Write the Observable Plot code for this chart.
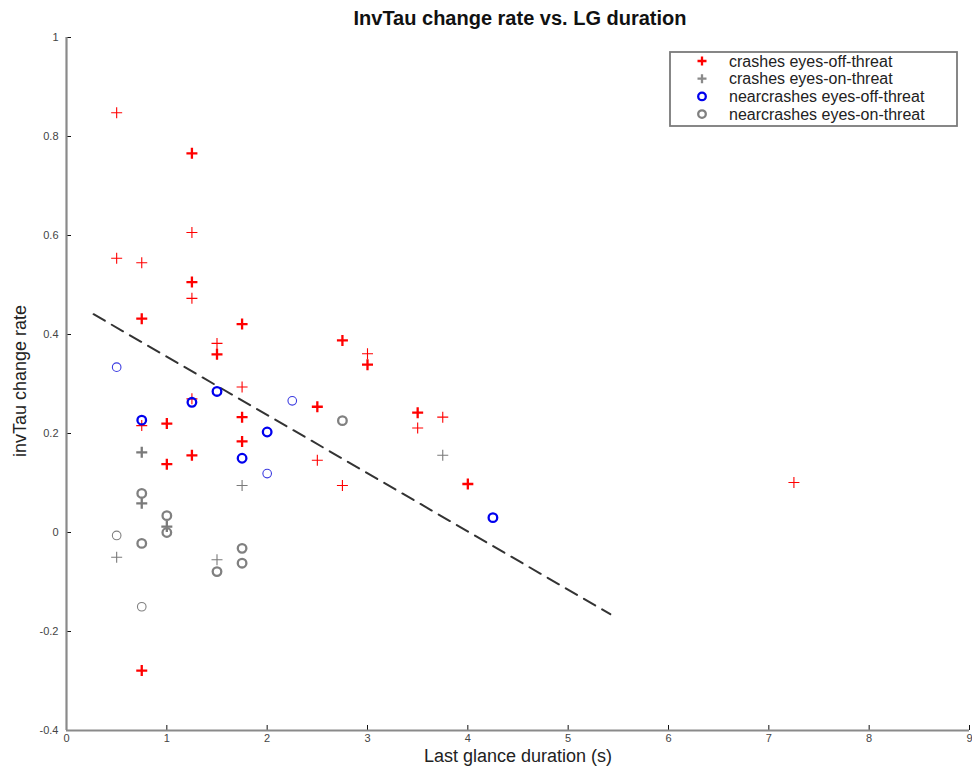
<!DOCTYPE html>
<html>
<head>
<meta charset="utf-8">
<script src="https://cdn.jsdelivr.net/npm/d3@7"></script>
<script src="https://cdn.jsdelivr.net/npm/@observablehq/plot@0.6"></script>
<style>
  html, body { margin: 0; padding: 0; background: #fff; }
  #wrap { position: relative; width: 972px; height: 771px; font-family: "Liberation Sans", Arial, Helvetica, sans-serif; }
  #chart { position: absolute; left: 0; top: 0; }
  .title { position: absolute; left: 320px; width: 400px; top: 7px; text-align: center; font-weight: bold; font-size: 20px; color: #111; white-space: nowrap; }
  .xlabel { position: absolute; left: 368px; width: 300px; top: 746px; line-height: 20px; text-align: center; font-size: 18px; color: #222; white-space: nowrap; }
  .ylabel { position: absolute; left: 20px; top: 381px; transform: translate(-50%, -50%) rotate(-90deg); font-size: 18px; color: #222; white-space: nowrap; }
  #legend { position: absolute; left: 669px; top: 51px; }
</style>
</head>
<body>
<div id="wrap">
  <div id="chart"></div>
  <div class="title">InvTau change rate vs. LG duration</div>
  <div class="xlabel">Last glance duration (s)</div>
  <div class="ylabel">invTau change rate</div>
  <svg id="legend" width="290" height="77"></svg>
</div>
<script>
// ---- data ----
const xDomain = [0, 9];
const yDomain = [-0.4, 1];
const xTicks = [0, 1, 2, 3, 4, 5, 6, 7, 8, 9];
const yTicks = [-0.4, -0.2, 0, 0.2, 0.4, 0.6, 0.8, 1];

// crashes, eyes-off-threat (n = overlapping observations)
const crashOffX = [0.5, 0.5, 0.75, 0.75, 0.75, 0.75, 1.0, 1.0, 1.25, 1.25, 1.25, 1.25, 1.25, 1.25, 1.5, 1.5, 1.75, 1.75, 1.75, 1.75, 2.5, 2.5, 2.75, 2.75, 3.0, 3.0, 3.5, 3.5, 3.75, 4.0, 7.25];
const crashOffY = [0.848, 0.554, 0.545, 0.432, 0.216, -0.279, 0.220, 0.138, 0.766, 0.606, 0.506, 0.473, 0.270, 0.156, 0.382, 0.360, 0.421, 0.294, 0.233, 0.184, 0.254, 0.146, 0.388, 0.095, 0.361, 0.339, 0.242, 0.211, 0.233, 0.098, 0.101];
const crashOffN = [1, 1, 1, 2, 1, 2, 2, 2, 2, 1, 2, 1, 1, 2, 1, 2, 2, 1, 2, 2, 2, 1, 2, 1, 1, 2, 2, 1, 1, 2, 1];

// crashes, eyes-on-threat
const crashOnX = [0.75, 0.75, 1.0, 0.5, 1.5, 1.75, 3.75];
const crashOnY = [0.162, 0.059, 0.012, -0.050, -0.055, 0.095, 0.156];
const crashOnN = [2, 2, 2, 1, 1, 1, 1];

// near-crashes, eyes-off-threat
const nearOffX = [0.5, 0.75, 1.25, 1.5, 1.75, 2.0, 2.0, 2.25, 4.25];
const nearOffY = [0.334, 0.227, 0.263, 0.285, 0.150, 0.203, 0.119, 0.266, 0.030];
const nearOffN = [1, 2, 2, 2, 2, 2, 1, 1, 2];

// near-crashes, eyes-on-threat
const nearOnX = [0.75, 1.0, 1.0, 0.5, 0.75, 1.5, 1.75, 1.75, 0.75, 2.75];
const nearOnY = [0.079, 0.034, 0.000, -0.006, -0.022, -0.079, -0.032, -0.062, -0.150, 0.226];
const nearOnN = [2, 2, 2, 1, 2, 2, 2, 2, 1, 2];

// least-squares fit line endpoints
const fitX = [0.27, 5.42];
const fitY = [0.441, -0.165];

// ---- build ----
const rows = (xs, ys, ns) => xs.map((x, i) => ({x, y: ys[i], n: ns[i]}));
const crashOff = rows(crashOffX, crashOffY, crashOffN);
const crashOn = rows(crashOnX, crashOnY, crashOnN);
const nearOff = rows(nearOffX, nearOffY, nearOffN);
const nearOn = rows(nearOnX, nearOnY, nearOnN);
const fit = fitX.map((x, i) => ({x, y: fitY[i]}));

const plusSym = {
  draw(ctx, size) {
    const r = Math.sqrt(size / Math.PI);
    ctx.moveTo(-r, 0); ctx.lineTo(r, 0);
    ctx.moveTo(0, -r); ctx.lineTo(0, r);
  }
};
const sw = d => d.n > 1 ? 2.3 : 1.1;

const chart = Plot.plot({
  width: 972,
  height: 771,
  marginLeft: 66,
  marginRight: 3,
  marginTop: 37,
  marginBottom: 41,
  style: {fontFamily: '"Liberation Sans", Arial, sans-serif', fontSize: "11px", background: "#fff"},
  x: {domain: xDomain},
  y: {domain: yDomain},
  marks: [
    Plot.axisX({ticks: xTicks, tickSize: -5, tickPadding: 9, label: null, stroke: "#111", fill: "#444", tickFormat: d => String(d)}),
    Plot.axisY({ticks: yTicks, tickSize: -5, tickPadding: 13, label: null, stroke: "#111", fill: "#444", tickFormat: d => String(d)}),
    Plot.ruleX([xDomain[0]], {stroke: "#8a8a8a", strokeWidth: 2.2}),
    Plot.ruleY([yDomain[0]], {stroke: "#8a8a8a", strokeWidth: 2.2}),
    Plot.line(fit, {x: "x", y: "y", stroke: "#333", strokeWidth: 2, strokeDasharray: "13,8"}),
    Plot.dot(crashOff, {x: "x", y: "y", symbol: plusSym, r: 5.5, fill: "none", stroke: "#ff0000", strokeWidth: sw}),
    Plot.dot(crashOn, {x: "x", y: "y", symbol: plusSym, r: 5.5, fill: "none", stroke: "#7a7a7a", strokeWidth: sw}),
    Plot.dot(nearOff, {x: "x", y: "y", symbol: "circle", r: 4.3, fill: "none", stroke: d => d.n > 1 ? "#0000ee" : "#3a3ae0", strokeWidth: sw}),
    Plot.dot(nearOn, {x: "x", y: "y", symbol: "circle", r: 4.3, fill: "none", stroke: "#808080", strokeWidth: sw})
  ]
});
document.getElementById("chart").appendChild(chart);

// ---- legend ----
const legendItems = [
  {label: "crashes eyes-off-threat", type: "plus", color: "#ff0000"},
  {label: "crashes eyes-on-threat", type: "plus", color: "#8a8a8a"},
  {label: "nearcrashes eyes-off-threat", type: "circle", color: "#0000ee"},
  {label: "nearcrashes eyes-on-threat", type: "circle", color: "#808080"}
];
const lg = d3.select("#legend");
lg.append("rect").attr("x", 1).attr("y", 1).attr("width", 287).attr("height", 74)
  .attr("fill", "#fff").attr("stroke", "#7a7a7a").attr("stroke-width", 1.8);
legendItems.forEach((it, i) => {
  const cy = 10 + i * 17.7;
  const g = lg.append("g").attr("transform", `translate(33,${cy})`);
  if (it.type === "plus") {
    g.append("path").attr("d", "M-4.5,0H4.5M0,-4.5V4.5").attr("stroke", it.color).attr("stroke-width", 2.3).attr("fill", "none");
  } else {
    g.append("circle").attr("r", 3.8).attr("stroke", it.color).attr("stroke-width", 2.3).attr("fill", "none");
  }
  lg.append("text").attr("x", 60).attr("y", cy).attr("dy", "0.35em")
    .attr("font-family", '"Liberation Sans", Arial, sans-serif').attr("font-size", 16).attr("fill", "#222")
    .text(it.label);
});
</script>
</body>
</html>
